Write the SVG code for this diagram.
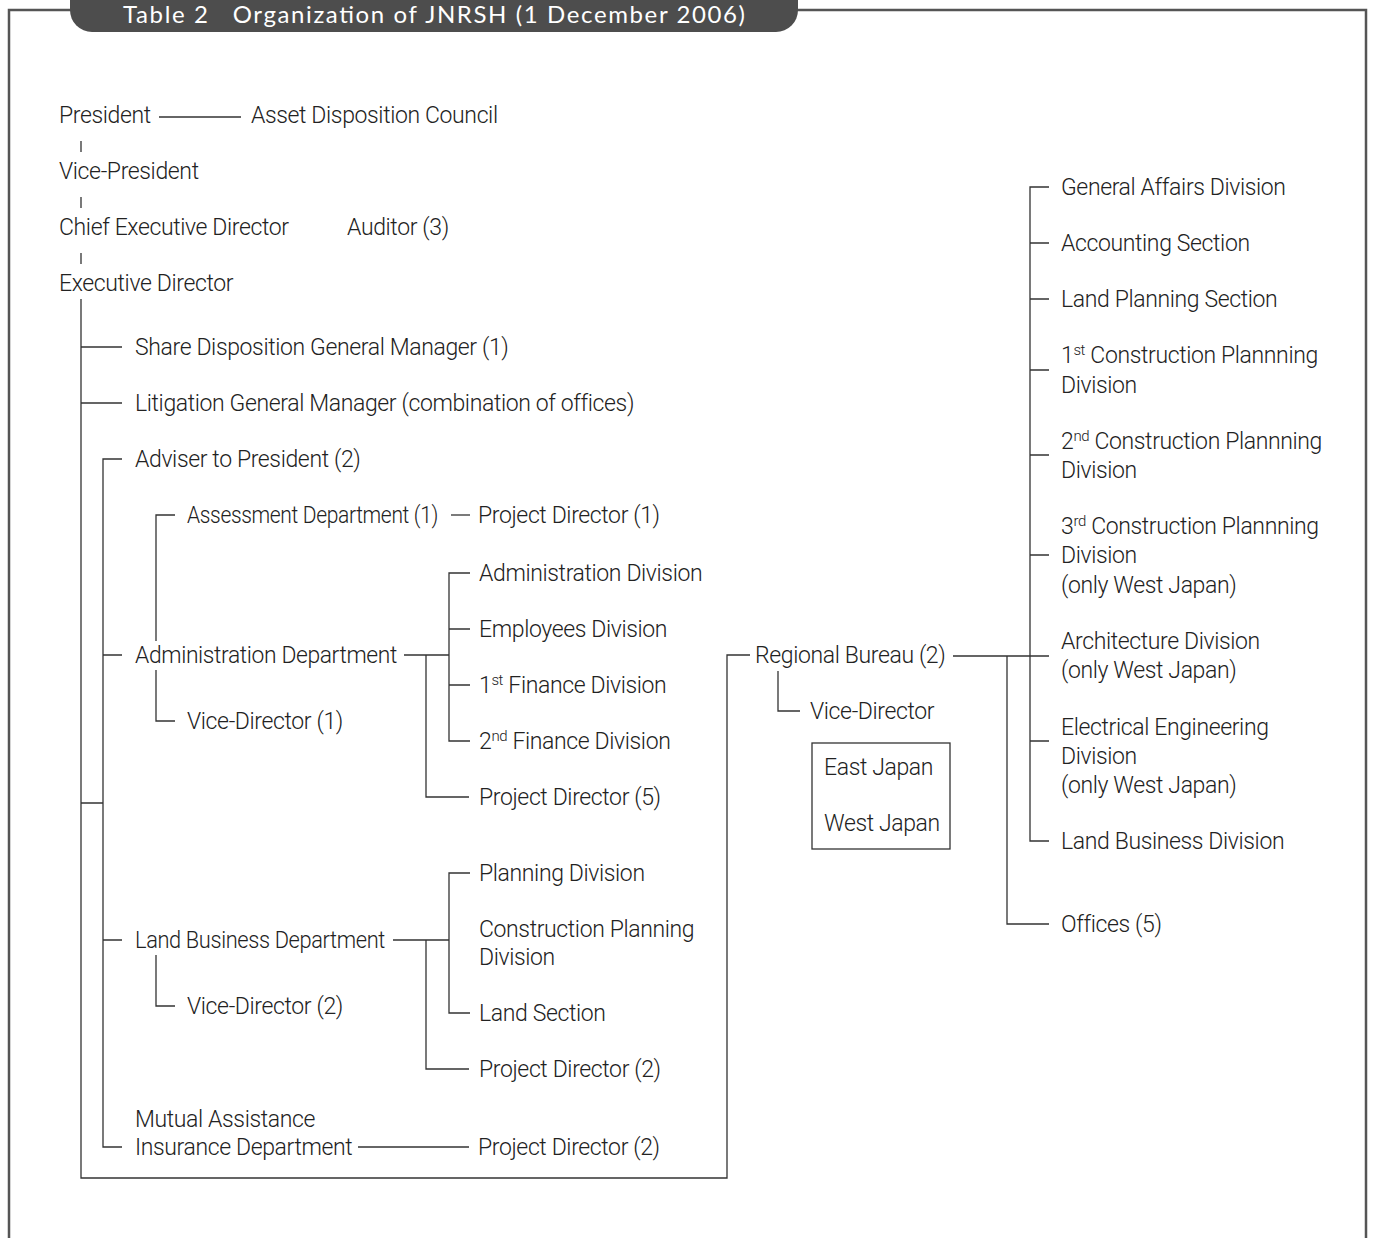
<svg xmlns="http://www.w3.org/2000/svg" width="1374" height="1238" viewBox="0 0 1374 1238">
<style>
.t{font-family:Roboto,"Liberation Sans",sans-serif;font-weight:300;font-size:23px;letter-spacing:-0.37px;fill:#222}
.s{font-size:15px}
.ln{fill:none;stroke:#333;stroke-width:1.3}
.fr{fill:none;stroke:#555;stroke-width:2.5}
.title{font-family:Lato,"Open Sans",sans-serif;font-size:24px;fill:#fff}
</style>
<rect width="1374" height="1238" fill="#fff"/>
<g id="frame">
<path class="fr" d="M72 10H9V1238M797 10H1366V1238"/>
<rect x="70" y="-30" width="728" height="62" rx="22" fill="#4d4d4d"/>
<text class="title" x="123" y="23" textLength="622" lengthAdjust="spacing">Table 2&#160;&#160; Organization of JNRSH (1 December 2006)</text>
</g>
<g id="connectors" class="ln">
<path d="M159 117H241"/>
<path d="M81 141V152M81 197V208M81 253V264"/>
<path d="M81 299V1178H727V655H750"/>
<path d="M81 347H122M81 403H122M81 803H103"/>
<path d="M122 459H103V1147H122M103 655H122M103 940H122"/>
<path d="M175 515H156V641"/>
<path d="M156 670V721H175"/>
<path d="M451 515H470"/>
<path d="M404 655H449M470 573H449V741H470M449 629H470M449 685H470"/>
<path d="M426 655V797H469"/>
<path d="M393 940H449M470 873H449V1013H470"/>
<path d="M426 940V1069H469"/>
<path d="M156 955V1006H175"/>
<path d="M358 1147H469"/>
<path d="M953 656H1049M1007 656V924H1049"/>
<path d="M1049 187H1030V841H1049M1030 243H1049M1030 299H1049M1030 370H1049M1030 455H1049M1030 555H1049M1030 741H1049"/>
<path d="M778 671V711H800"/>
</g>
<g id="n-president"><text class="t" x="59" y="123">President</text></g>
<g id="n-council"><text class="t" x="251" y="123">Asset Disposition Council</text></g>
<g id="n-vp"><text class="t" x="59" y="179">Vice-President</text></g>
<g id="n-ced"><text class="t" x="59" y="235">Chief Executive Director</text></g>
<g id="n-auditor"><text class="t" x="347" y="235">Auditor (3)</text></g>
<g id="n-ed"><text class="t" x="59" y="291">Executive Director</text></g>
<g id="n-share"><text class="t" x="135" y="355">Share Disposition General Manager (1)</text></g>
<g id="n-litigation"><text class="t" x="135" y="411">Litigation General Manager (combination of offices)</text></g>
<g id="n-adviser"><text class="t" x="135" y="467">Adviser to President (2)</text></g>
<g id="n-assessment"><text class="t" x="187" y="523" textLength="251" lengthAdjust="spacingAndGlyphs">Assessment Department (1)</text></g>
<g id="n-pd1"><text class="t" x="478" y="523">Project Director (1)</text></g>
<g id="n-admin"><text class="t" x="135" y="663" textLength="262" lengthAdjust="spacingAndGlyphs">Administration Department</text></g>
<g id="n-vd1"><text class="t" x="187" y="729">Vice-Director (1)</text></g>
<g id="n-admdiv"><text class="t" x="479" y="581">Administration Division</text></g>
<g id="n-empdiv"><text class="t" x="479" y="637">Employees Division</text></g>
<g id="n-fin1"><text class="t" x="479" y="693">1<tspan class="s" dy="-8">st</tspan><tspan dy="8"> Finance Division</tspan></text></g>
<g id="n-fin2"><text class="t" x="479" y="749">2<tspan class="s" dy="-8">nd</tspan><tspan dy="8"> Finance Division</tspan></text></g>
<g id="n-pd5"><text class="t" x="479" y="805">Project Director (5)</text></g>
<g id="n-land"><text class="t" x="135" y="948" textLength="250" lengthAdjust="spacingAndGlyphs">Land Business Department</text></g>
<g id="n-vd2"><text class="t" x="187" y="1014">Vice-Director (2)</text></g>
<g id="n-plan"><text class="t" x="479" y="881">Planning Division</text></g>
<g id="n-cpd"><text class="t" x="479" y="937">Construction Planning</text><text class="t" x="479" y="965">Division</text></g>
<g id="n-landsec"><text class="t" x="479" y="1021">Land Section</text></g>
<g id="n-pd2a"><text class="t" x="479" y="1077">Project Director (2)</text></g>
<g id="n-mutual"><text class="t" x="135" y="1127">Mutual Assistance</text><text class="t" x="135" y="1155">Insurance Department</text></g>
<g id="n-pd2b"><text class="t" x="478" y="1155">Project Director (2)</text></g>
<g id="n-regional"><text class="t" x="755" y="663">Regional Bureau (2)</text></g>
<g id="n-rvd"><text class="t" x="810" y="719">Vice-Director</text></g>
<g id="n-regions"><rect x="812" y="743" width="138" height="106" fill="none" stroke="#333" stroke-width="1.3"/><text class="t" x="824" y="775">East Japan</text><text class="t" x="824" y="831">West Japan</text></g>
<g id="n-gad"><text class="t" x="1061" y="195">General Affairs Division</text></g>
<g id="n-acc"><text class="t" x="1061" y="251">Accounting Section</text></g>
<g id="n-lps"><text class="t" x="1061" y="307">Land Planning Section</text></g>
<g id="n-cpd1"><text class="t" x="1061" y="363">1<tspan class="s" dy="-8">st</tspan><tspan dy="8"> Construction Plannning</tspan></text><text class="t" x="1061" y="393">Division</text></g>
<g id="n-cpd2"><text class="t" x="1061" y="449">2<tspan class="s" dy="-8">nd</tspan><tspan dy="8"> Construction Plannning</tspan></text><text class="t" x="1061" y="478">Division</text></g>
<g id="n-cpd3"><text class="t" x="1061" y="534">3<tspan class="s" dy="-8">rd</tspan><tspan dy="8"> Construction Plannning</tspan></text><text class="t" x="1061" y="563">Division</text><text class="t" x="1061" y="593">(only West Japan)</text></g>
<g id="n-arch"><text class="t" x="1061" y="649">Architecture Division</text><text class="t" x="1061" y="678">(only West Japan)</text></g>
<g id="n-elec"><text class="t" x="1061" y="735">Electrical Engineering</text><text class="t" x="1061" y="764">Division</text><text class="t" x="1061" y="793">(only West Japan)</text></g>
<g id="n-lbd"><text class="t" x="1061" y="849">Land Business Division</text></g>
<g id="n-offices"><text class="t" x="1061" y="932">Offices (5)</text></g>
</svg>
